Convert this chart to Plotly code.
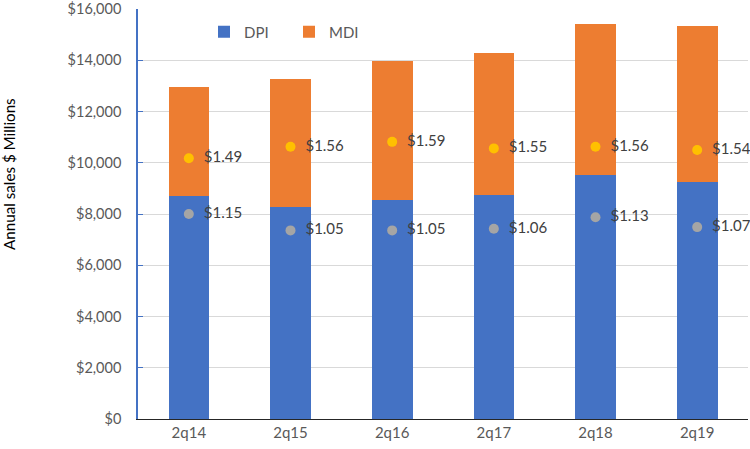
import plotly.graph_objects as go

categories = ["2q14", "2q15", "2q16", "2q17", "2q18", "2q19"]
dpi_sales = [8720, 8270, 8540, 8750, 9540, 9240]
mdi_sales = [4250, 5010, 5440, 5550, 5890, 6100]
mdi_price = [1.49, 1.56, 1.59, 1.55, 1.56, 1.54]
dpi_price = [1.15, 1.05, 1.05, 1.06, 1.13, 1.07]

FONT = "Lato, 'Liberation Sans', sans-serif"
BLUE = "#4472C4"
ORANGE = "#ED7D31"
YELLOW = "#FFC000"
GRAY = "#A5A5A5"

L, R, T, B = 138, 2, 9, 30
PW = 750 - L - R
PH = 449 - T - B

fig = go.Figure()
fig.add_trace(go.Bar(x=categories, y=dpi_sales, name="DPI", marker=dict(color=BLUE, line=dict(width=0))))
fig.add_trace(go.Bar(x=categories, y=mdi_sales, name="MDI", marker=dict(color=ORANGE, line=dict(width=0))))

fig.add_trace(go.Scatter(
    x=categories, y=mdi_price, yaxis="y2", mode="markers+text",
    marker=dict(color=YELLOW, size=10),
    text=["  $%.2f" % v for v in mdi_price], textposition="middle right",
    textfont=dict(family=FONT, size=15, color="#404040"),
    showlegend=False, cliponaxis=False))
fig.add_trace(go.Scatter(
    x=categories, y=dpi_price, yaxis="y2", mode="markers+text",
    marker=dict(color=GRAY, size=10),
    text=["  $%.2f" % v for v in dpi_price], textposition="middle right",
    textfont=dict(family=FONT, size=15, color="#404040"),
    showlegend=False, cliponaxis=False))

fig.update_layout(
    width=750, height=449,
    margin=dict(l=L, r=R, t=T, b=B, autoexpand=False),
    barmode="stack", bargap=0.6,
    plot_bgcolor="white", paper_bgcolor="white",
    font=dict(family=FONT, size=15, color="#595959"),
    showlegend=True,
    legend=dict(orientation="h", x=(204 - L) / PW, y=(T + PH - 32) / PH,
                xanchor="left", yanchor="middle",
                font=dict(family=FONT, size=15, color="#595959"),
                bgcolor="rgba(0,0,0,0)", itemwidth=30, traceorder="normal",
                entrywidth=40),
    xaxis=dict(showline=True, linecolor="#262626", linewidth=1, ticks="",
               automargin=False,
               tickfont=dict(family=FONT, size=15, color="#595959"),
               showgrid=False),
    yaxis=dict(range=[0, 16000], dtick=2000, tickprefix="$", tickformat=",d",
               showline=True, linecolor=BLUE, linewidth=1.5,
               ticks="inside", ticklen=5, tickcolor=BLUE,
               gridcolor="#D9D9D9", gridwidth=1, zeroline=False,
               ticklabelstandoff=12, automargin=False, ticklabeloverflow="allow",
               tickfont=dict(family=FONT, size=14.5, color="#595959")),
    yaxis2=dict(range=[-0.1, 2.4], overlaying="y", side="right", visible=False),
    annotations=[dict(text="Annual sales $ Millions", textangle=-90,
                      xref="paper", yref="paper", x=-(L + 2) / PW, y=(T + PH - 174) / PH,
                      xanchor="left", yanchor="middle", showarrow=False,
                      font=dict(family=FONT, size=15.2, color="#000000"))],
)

fig.write_html("out.html", config={"displayModeBar": False},
               post_script="document.body.style.margin='0';document.body.style.padding='0';")
